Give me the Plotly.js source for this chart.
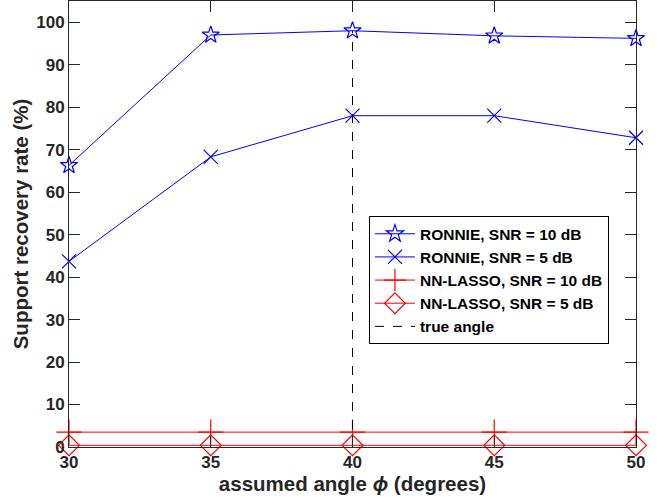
<!DOCTYPE html>
<html><head><meta charset="utf-8">
<script src="https://cdn.plot.ly/plotly-3.0.1.min.js"></script>
<style>html,body{margin:0;padding:0;background:#fff}#plot{width:668px;height:504px}</style>
</head><body><div id="plot"></div>
<script>
const angles = [30, 35, 40, 45, 50];
const ronnie10 = [66.3, 97.0, 98.0, 96.8, 96.2];
const ronnie5 = [43.7, 68.3, 78.0, 78.0, 72.8];
const lasso10 = [3.5, 3.5, 3.5, 3.5, 3.5];
const lasso5 = [0.4, 0.4, 0.4, 0.4, 0.4];
const trueAngleX = [40, 40];
const trueAngleY = [0, 98];
const names = ['RONNIE, SNR = 10 dB', 'RONNIE, SNR = 5 dB', 'NN-LASSO, SNR = 10 dB', 'NN-LASSO, SNR = 5 dB', 'true angle'];

const blue = '#0000ff', red = '#ff0000';
const FONT = 'Liberation Sans, Arial, Helvetica, sans-serif';
const traces = [
  {x: angles, y: ronnie10, name: names[0], mode: 'lines+markers', cliponaxis: false, line: {color: blue, width: 1},
   marker: {symbol: 'star-open', size: 13, color: blue, line: {color: blue, width: 1.2}}},
  {x: angles, y: ronnie5, name: names[1], mode: 'lines+markers', cliponaxis: false, line: {color: blue, width: 1},
   marker: {symbol: 'x-thin-open', size: 14, color: blue, line: {color: blue, width: 1.2}}},
  {x: angles, y: lasso10, name: names[2], mode: 'lines+markers', cliponaxis: false, line: {color: red, width: 1},
   marker: {symbol: 'cross-thin-open', size: 18, color: red, line: {color: red, width: 1.2}}},
  {x: angles, y: lasso5, name: names[3], mode: 'lines+markers', cliponaxis: false, line: {color: red, width: 1},
   marker: {symbol: 'diamond-open', size: 16, color: red, line: {color: red, width: 1.2}}},
  {x: trueAngleX, y: trueAngleY, name: names[4], mode: 'lines', line: {color: '#000', width: 1, dash: 'dash'}}
];

const axisCommon = {
  showgrid: false, zeroline: false, showline: true, linecolor: '#262626', linewidth: 1,
  mirror: 'ticks', ticks: 'inside', ticklen: 11, tickcolor: '#262626', tickwidth: 1,
  tickfont: {family: FONT, size: 17, color: '#262626', weight: 'bold'}
};

const layout = {
  width: 668, height: 504,
  margin: {l: 69, r: 32, t: 1, b: 57},
  paper_bgcolor: '#fff', plot_bgcolor: '#fff',
  showlegend: true,
  xaxis: Object.assign({}, axisCommon, {
    range: [30, 50], tickvals: [30, 35, 40, 45, 50],
    title: {text: 'assumed angle <i>ϕ</i> (degrees)', standoff: 4,
      font: {family: FONT, size: 20.5, color: '#262626', weight: 'bold'}}
  }),
  yaxis: Object.assign({}, axisCommon, {
    range: [0, 105], tickvals: [0, 10, 20, 30, 40, 50, 60, 70, 80, 90, 100],
    title: {text: 'Support recovery rate (%)', standoff: 2,
      font: {family: FONT, size: 20.5, color: '#262626', weight: 'bold'}}
  }),
  legend: {
    x: 0.529, y: 0.374, xanchor: 'left', yanchor: 'middle',
    bgcolor: '#fff', bordercolor: '#000', borderwidth: 1,
    font: {family: FONT, size: 15.5, color: '#000', weight: 'bold'},
    tracegroupgap: 0, itemwidth: 40
  }
};

Plotly.newPlot('plot', traces, layout, {displayModeBar: false, staticPlot: true});
</script>
</body></html>
